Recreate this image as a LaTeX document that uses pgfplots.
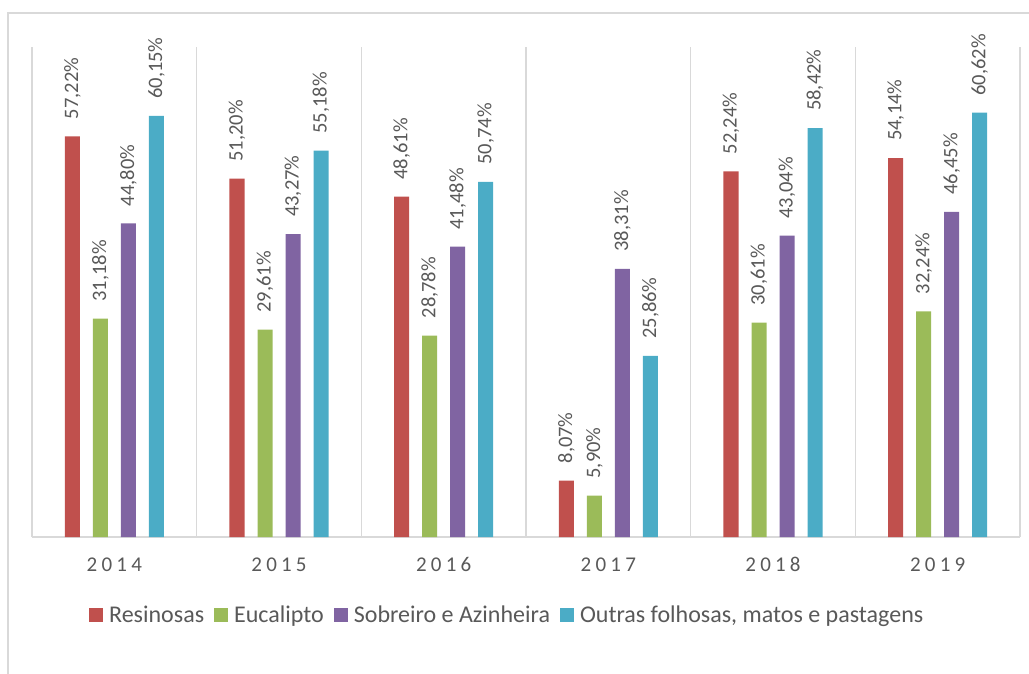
\documentclass[border=0pt]{standalone}
\usepackage{pgfplots}
\pgfplotsset{compat=1.18}
\usepackage{fontspec}
\setmainfont{Carlito}
\definecolor{cRes}{HTML}{C0504D}
\definecolor{cEuc}{HTML}{9BBB59}
\definecolor{cSob}{HTML}{8064A2}
\definecolor{cOut}{HTML}{4BACC6}
\definecolor{txt}{HTML}{595959}
\definecolor{grd}{HTML}{D9D9D9}
\begin{document}
\begin{tikzpicture}
\useasboundingbox (0,0) rectangle (1029pt,673pt);
\draw[grd, line width=1.5pt] (8pt,-10pt) rectangle (1040pt,660pt);
\begin{axis}[
  at={(32pt,136pt)}, anchor=south west,
  scale only axis, width=988pt, height=490pt,
  xmin=-0.5, xmax=5.5, ymin=0, ymax=70,
  ybar=13pt, bar width=15pt,
  axis y line=none,
  axis x line=bottom,
  x axis line style={-, grd, line width=1.5pt},
  xtick={0,1,2,3,4,5},
  xticklabels={2014,2015,2016,2017,2018,2019},
  major tick length=0pt,
  minor xtick={-0.5,0.5,1.5,2.5,3.5,4.5,5.5},
  minor tick length=0pt,
  xminorgrids,
  minor grid style={grd, line width=1.2pt},
  xticklabel style={font=\fontsize{21}{24}\selectfont\addfontfeature{LetterSpace=20}, text=txt, yshift=-17pt},
  /pgf/number format/assume math mode=true,
  nodes near coords={\pgfmathprintnumber[fixed,fixed zerofill,precision=2,use comma]{\pgfplotspointmeta}\%},
  every node near coord/.append style={rotate=90, anchor=west, inner xsep=17pt, inner ysep=0pt, font=\fontsize{20.5}{24}\selectfont, text=txt},
  legend style={at={(0.481,-0.159)}, anchor=center, draw=none, legend columns=4,
    font=\fontsize{24}{28}\selectfont, text=txt,
    /tikz/every odd column/.append style={column sep=4pt},
    /tikz/every even column/.append style={column sep=8pt}},
  legend image code/.code={\fill[#1, draw=none] (0pt,-7pt) rectangle (14pt,7pt);},
  legend cell align=left,
]
\addplot[fill=cRes, draw=none] coordinates {(0,57.22) (1,51.20) (2,48.61) (3,8.07) (4,52.24) (5,54.14)};
\addplot[fill=cEuc, draw=none] coordinates {(0,31.18) (1,29.61) (2,28.78) (3,5.90) (4,30.61) (5,32.24)};
\addplot[fill=cSob, draw=none] coordinates {(0,44.80) (1,43.27) (2,41.48) (3,38.31) (4,43.04) (5,46.45)};
\addplot[fill=cOut, draw=none] coordinates {(0,60.15) (1,55.18) (2,50.74) (3,25.86) (4,58.42) (5,60.62)};
\legend{Resinosas,Eucalipto,Sobreiro e Azinheira,{Outras folhosas, matos e pastagens}}
\end{axis}
\end{tikzpicture}
\end{document}
